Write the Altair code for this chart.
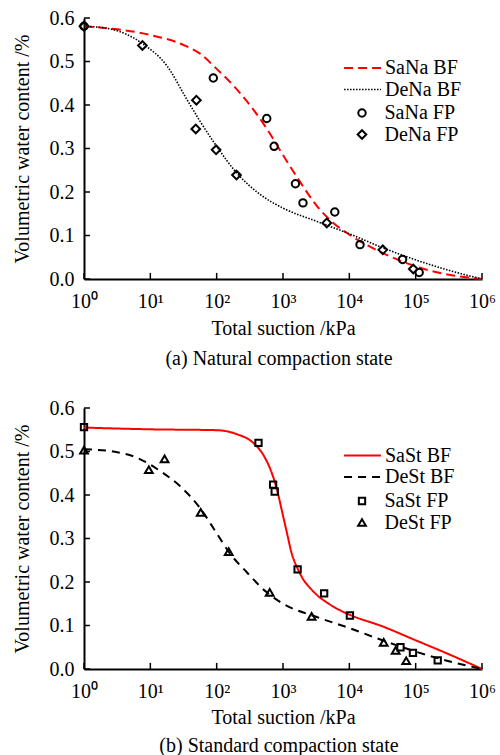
import altair as alt
import pandas as pd

FONT = "Liberation Serif"
FS = 20

# ---------------- (a) Natural compaction state ----------------
sana_bf_x = [1, 3.16, 10, 31.6, 56.2, 100, 178, 316, 562, 1000, 1780, 3160, 5620, 10000, 31600, 100000, 316000, 1000000]
sana_bf_y = [0.581, 0.574, 0.561, 0.538, 0.518, 0.483, 0.445, 0.400, 0.347, 0.285, 0.225, 0.170, 0.130, 0.102, 0.060, 0.029, 0.010, 0.0]

dena_bf_x = [1, 2.45, 7.8, 17.8, 35.5, 56, 100, 200, 447, 1000, 3160, 10000, 31600, 100000, 316000, 1000000]
dena_bf_y = [0.581, 0.575, 0.540, 0.490, 0.413, 0.363, 0.305, 0.244, 0.195, 0.163, 0.133, 0.104, 0.072, 0.044, 0.020, 0.0]

sana_fp_x = [1, 89, 569, 735, 1540, 2000, 6040, 14500, 63500, 113000]
sana_fp_y = [0.581, 0.462, 0.369, 0.305, 0.219, 0.175, 0.154, 0.079, 0.045, 0.015]

dena_fp_x = [1, 7.6, 49.5, 48.4, 98, 199, 4570, 31900, 92000]
dena_fp_y = [0.581, 0.537, 0.411, 0.345, 0.297, 0.239, 0.129, 0.067, 0.023]

# ---------------- (b) Standard compaction state ----------------
sast_bf_x = [1, 10, 100, 200, 355, 501, 676, 813, 955, 1150, 1350, 1660, 2000, 2570, 3550, 4470, 6460, 10000, 31600, 100000, 316000, 1000000]
sast_bf_y = [0.555, 0.551, 0.549, 0.540, 0.520, 0.493, 0.451, 0.412, 0.366, 0.312, 0.266, 0.231, 0.207, 0.186, 0.165, 0.154, 0.139, 0.125, 0.098, 0.066, 0.034, 0.0]

dest_bf_x = [1, 2.45, 6.2, 14.1, 28.2, 56.2, 100, 158, 282, 562, 1000, 3160, 10000, 31600, 100000, 316000, 1000000]
dest_bf_y = [0.505, 0.501, 0.486, 0.455, 0.420, 0.370, 0.312, 0.266, 0.223, 0.177, 0.150, 0.120, 0.094, 0.066, 0.040, 0.018, 0.0]

sast_fp_x = [1, 427, 710, 750, 1660, 4170, 10200, 59000, 91000, 215000]
sast_fp_y = [0.556, 0.520, 0.424, 0.408, 0.229, 0.174, 0.123, 0.050, 0.037, 0.020]

dest_fp_x = [1, 9.5, 16.4, 57.5, 152, 630, 2700, 33000, 50000, 72000]
dest_fp_y = [0.503, 0.458, 0.483, 0.360, 0.270, 0.176, 0.121, 0.061, 0.043, 0.019]

x_ticks = [1, 10, 100, 1000, 10000, 100000, 1000000]
y_ticks = [0.0, 0.1, 0.2, 0.3, 0.4, 0.5, 0.6]

W, H = 398, 261


def long_df(names, xs, ys, key):
    rows = []
    for n, xv, yv in zip(names, xs, ys):
        for a, b in zip(xv, yv):
            rows.append({key: n, "suction": a, "theta": b})
    return pd.DataFrame(rows)


def panel(curve_names, curve_x, curve_y, curve_colors, curve_dash, curve_widths,
          pt_names, pt_x, pt_y, pt_shapes, pt_sizes, caption,
          line_leg_y, pt_leg_y, cap_offset, title_pad):
    xscale = alt.Scale(type="log", domain=[1, 1000000], nice=False)
    yscale = alt.Scale(domain=[0, 0.6], nice=False, zero=False)
    xaxis = alt.Axis(values=x_ticks, title="Total suction /kPa", ticks=False, tickSize=0,
                     labelFont=FONT, titleFont=FONT, labelFontSize=FS, titleFontSize=FS,
                     labelPadding=12.5, titlePadding=title_pad, labelFlush=False, labelOverlap=False,
                     labelExpr="'10' + ['\u2070','\u00b9','\u00b2','\u00b3','\u2074','\u2075','\u2076'][round(log(datum.value)/LN10)]")
    yaxis = alt.Axis(values=y_ticks, format=".1f", title="Volumetric water content /%",
                     labelFont=FONT, titleFont=FONT, labelFontSize=FS, titleFontSize=FS,
                     ticks=False, tickSize=0, labelPadding=10, titlePadding=17,
                     labelFlush=False, labelOverlap=False)

    cdf = long_df(curve_names, curve_x, curve_y, "curve")
    pdf = long_df(pt_names, pt_x, pt_y, "series")

    line_leg = alt.Legend(title=None, orient="none", legendX=268.5, legendY=line_leg_y,
                          symbolType="M-4,0H4", symbolSize=85, labelFont=FONT,
                          labelFontSize=FS, labelColor="black", padding=0,
                          rowPadding=1.5, labelOffset=12.5)
    pt_leg = alt.Legend(title=None, orient="none", legendX=268, legendY=pt_leg_y,
                        labelFont=FONT, labelFontSize=FS, labelColor="black", padding=0,
                        rowPadding=1.5, labelOffset=12.5, symbolStrokeWidth=2,
                        symbolStrokeColor="black", symbolFillColor="transparent")

    lines = alt.Chart(cdf).mark_line(interpolate="monotone").encode(
        x=alt.X("suction:Q", scale=xscale, axis=xaxis),
        y=alt.Y("theta:Q", scale=yscale, axis=yaxis),
        color=alt.Color("curve:N", scale=alt.Scale(domain=curve_names, range=curve_colors), legend=line_leg),
        strokeDash=alt.StrokeDash("curve:N", scale=alt.Scale(domain=curve_names, range=curve_dash), legend=line_leg),
        strokeWidth=alt.StrokeWidth("curve:N", scale=alt.Scale(domain=curve_names, range=curve_widths), legend=line_leg),
    )

    pts = alt.Chart(pdf).mark_point(filled=False, color="black", strokeWidth=2, opacity=1).encode(
        x=alt.X("suction:Q"),
        y=alt.Y("theta:Q"),
        shape=alt.Shape("series:N", scale=alt.Scale(domain=pt_names, range=pt_shapes), legend=pt_leg),
        size=alt.Size("series:N", scale=alt.Scale(domain=pt_names, range=pt_sizes), legend=pt_leg),
    )

    xt = alt.Chart(pd.DataFrame({"suction": x_ticks})).mark_rule(color="black", strokeWidth=1.5).encode(
        x=alt.X("suction:Q"),
        y=alt.datum(0),
        y2=alt.datum(0.014),
    )
    yt = alt.Chart(pd.DataFrame({"theta": y_ticks})).mark_rule(color="black", strokeWidth=1.5).encode(
        y=alt.Y("theta:Q"),
        x=alt.datum(1),
        x2=alt.datum(1.23),
    )

    return alt.layer(lines, pts, xt, yt).properties(
        width=W, height=H,
        title=alt.TitleParams(caption, orient="bottom", anchor="middle", offset=cap_offset, dx=-4),
    )


top = panel(
    ["SaNa BF", "DeNa BF"], [sana_bf_x, dena_bf_x], [sana_bf_y, dena_bf_y],
    ["#ff0000", "#000000"], [[9, 5], [1.5, 1.5]], [2, 1.6],
    ["SaNa FP", "DeNa FP"], [sana_fp_x, dena_fp_x], [sana_fp_y, dena_fp_y],
    ["circle", "diamond"], [55, 75],
    "(a) Natural compaction state", 40, 85, 10.5, 6.5,
)

bottom = panel(
    ["SaSt BF", "DeSt BF"], [sast_bf_x, dest_bf_x], [sast_bf_y, dest_bf_y],
    ["#ff0000", "#000000"], [[1, 0], [8, 6]], [2, 2],
    ["SaSt FP", "DeSt FP"], [sast_fp_x, dest_fp_x], [sast_fp_y, dest_fp_y],
    ["square", "triangle-up"], [40, 60],
    "(b) Standard compaction state", 37.5, 83, 8.5, 5.5,
)

chart = alt.vconcat(top, bottom, spacing=29).resolve_scale(
    color="independent", strokeDash="independent", strokeWidth="independent",
    shape="independent", size="independent",
).resolve_legend(
    color="independent", strokeDash="independent", strokeWidth="independent",
    shape="independent", size="independent",
).properties(
    padding={"left": 12, "top": 8, "right": 0, "bottom": 0}
).configure_axis(
    labelFont=FONT, titleFont=FONT, labelFontSize=FS, titleFontSize=FS,
    titleFontWeight="normal", labelColor="black", titleColor="black",
    domainColor="black", domainWidth=2, grid=False,
).configure_view(stroke=None).configure_title(
    font=FONT, fontSize=FS, fontWeight="normal", color="black"
).configure_legend(labelFont=FONT)

chart.save("out.html", embed_options={"renderer": "svg", "actions": False})
